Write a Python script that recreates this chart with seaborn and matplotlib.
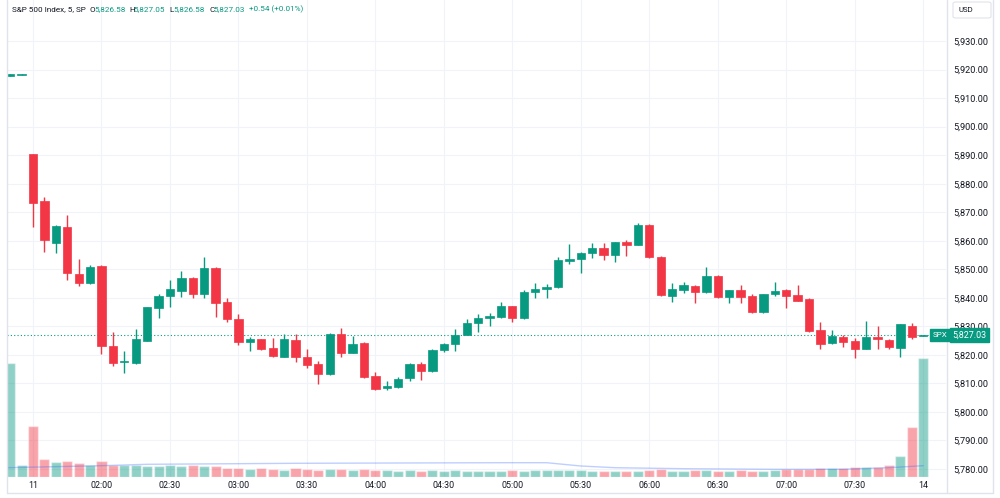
import matplotlib

matplotlib.use('Agg')
import matplotlib.pyplot as plt
import matplotlib.transforms as mtransforms
from matplotlib.lines import Line2D
from matplotlib.patches import FancyBboxPatch
import seaborn as sns
import pandas as pd
import numpy as np

# 5-minute bars, S&P 500 (SPX)
opens = [5917.8, 5918.2, 5890.3, 5873.9, 5859.3, 5864.9, 5848.3, 5845.3, 5851.2, 5823.1,
         5817.5, 5817.0, 5824.9, 5836.5, 5840.6, 5842.4, 5846.9, 5841.2, 5850.6, 5838.4,
         5832.6, 5824.4, 5825.5, 5822.4, 5819.4, 5825.2, 5819.4, 5816.7, 5813.2, 5827.2,
         5820.8, 5824.2, 5812.6, 5808.3, 5808.8, 5812.0, 5816.8, 5814.3, 5821.7, 5823.9,
         5827.0, 5831.3, 5833.0, 5833.2, 5837.1, 5832.8, 5842.1, 5843.0, 5843.7, 5853.0,
         5853.6, 5855.8, 5857.4, 5855.0, 5859.7, 5858.6, 5865.6, 5854.4, 5840.8, 5842.6,
         5844.2, 5841.9, 5847.8, 5840.4, 5842.7, 5840.6, 5834.9, 5841.2, 5842.7, 5840.9,
         5839.5, 5828.8, 5824.2, 5826.4, 5824.9, 5822.0, 5826.4, 5825.2, 5822.5, 5830.2,
         5826.58]
highs = [5918.4, 5918.4, 5890.5, 5875.4, 5865.4, 5869.0, 5853.6, 5851.5, 5851.5, 5827.9,
         5821.4, 5829.1, 5836.9, 5841.2, 5846.2, 5849.4, 5847.4, 5854.2, 5850.8, 5840.0,
         5834.3, 5826.4, 5825.7, 5826.0, 5827.3, 5827.2, 5822.0, 5818.0, 5827.6, 5829.5,
         5826.7, 5824.4, 5814.1, 5811.0, 5812.4, 5817.3, 5817.5, 5822.2, 5824.3, 5829.2,
         5832.5, 5834.2, 5834.6, 5838.4, 5837.2, 5842.7, 5845.1, 5844.8, 5854.4, 5858.8,
         5856.2, 5859.1, 5859.1, 5859.6, 5860.3, 5866.3, 5865.8, 5854.5, 5845.1, 5845.5,
         5844.4, 5850.7, 5848.0, 5842.9, 5844.4, 5841.3, 5841.5, 5845.5, 5843.0, 5844.5,
         5839.8, 5831.6, 5828.7, 5827.0, 5825.8, 5831.9, 5830.1, 5825.6, 5830.9, 5831.1,
         5827.05]
lows = [5917.8, 5918.1, 5864.7, 5856.2, 5855.6, 5846.2, 5844.2, 5844.8, 5820.2, 5816.1,
        5813.5, 5816.8, 5824.7, 5833.0, 5836.9, 5840.4, 5840.0, 5840.0, 5833.4, 5831.6,
        5823.5, 5821.5, 5821.7, 5819.2, 5819.3, 5817.6, 5815.5, 5809.7, 5813.0, 5819.2,
        5820.6, 5812.0, 5807.7, 5807.6, 5808.4, 5810.8, 5811.2, 5814.0, 5821.0, 5821.5,
        5826.9, 5828.1, 5830.2, 5833.0, 5831.6, 5832.5, 5839.8, 5839.8, 5843.5, 5851.7,
        5848.6, 5853.9, 5853.3, 5852.7, 5854.8, 5858.4, 5854.0, 5840.8, 5838.6, 5841.8,
        5838.1, 5841.8, 5840.1, 5838.1, 5838.1, 5834.8, 5834.6, 5840.7, 5836.5, 5838.8,
        5828.1, 5822.0, 5823.7, 5822.7, 5818.8, 5821.9, 5822.0, 5822.0, 5819.4, 5825.5,
        5826.58]
closes = [5918.3, 5918.3, 5873.3, 5860.3, 5865.2, 5848.6, 5845.3, 5850.7, 5823.2, 5817.0,
          5817.7, 5825.5, 5836.7, 5840.6, 5843.0, 5847.1, 5841.3, 5850.3, 5838.3, 5832.6,
          5824.6, 5825.5, 5822.1, 5819.6, 5825.5, 5819.4, 5816.6, 5813.4, 5827.2, 5820.8,
          5823.9, 5812.4, 5808.1, 5809.1, 5811.7, 5816.8, 5814.3, 5821.7, 5823.9, 5827.0,
          5831.1, 5832.8, 5833.7, 5837.1, 5833.0, 5842.1, 5843.2, 5843.9, 5853.3, 5853.6,
          5855.8, 5857.4, 5855.0, 5859.5, 5858.6, 5865.5, 5854.2, 5841.0, 5843.0, 5844.5,
          5842.1, 5847.8, 5840.3, 5842.7, 5840.4, 5834.9, 5841.4, 5842.5, 5840.7, 5839.0,
          5828.5, 5823.7, 5826.5, 5824.6, 5822.0, 5826.4, 5825.5, 5822.7, 5830.7, 5826.2,
          5827.03]
volumes = [114, 12, 51, 18, 15, 16, 14, 12, 16, 12, 12, 12, 11, 11, 12, 11, 12, 11, 11, 9,
           9, 8, 9, 8, 7, 9, 8, 7, 8, 8, 7, 8, 7, 7, 6, 7, 6, 7, 6, 7,
           6, 6, 6, 6, 7, 6, 7, 7, 7, 7, 7, 6, 6, 6, 6, 6, 7, 8, 6, 6,
           7, 7, 6, 6, 7, 6, 6, 7, 8, 8, 8, 9, 9, 9, 10, 10, 10, 12, 21, 50,
           119]
vol_ma_idx = [-0.3, 8, 12, 25, 43, 47, 50, 53, 59, 67, 73, 77, 80]
vol_ma_vals = [9.3, 11.3, 12.7, 13.7, 14.3, 14.3, 11.0, 9.3, 8.3, 7.7, 7.7, 9.3, 11.3]

time_tick_idx = [2, 8, 14, 20, 26, 32, 38, 44, 50, 56, 62, 68, 74, 80]
time_tick_labels = ['11', '02:00', '02:30', '03:00', '03:30', '04:00', '04:30',
                    '05:00', '05:30', '06:00', '06:30', '07:00', '07:30', '14']
price_ticks = list(range(5780, 5940, 10))
last_price = 5827.03

UP = '#089981'
DOWN = '#F23645'
TEXT = '#131722'
FRAME = '#e0e3eb'
GRID = '#f0f3fa'

sns.set_style('white')
plt.rcParams['font.family'] = ['Roboto', 'DejaVu Sans']

W, H = 1000, 498
fig = plt.figure(figsize=(W / 100, H / 100), dpi=100)
ax = fig.add_axes([7 / W, (H - 477) / H, (946 - 7) / W, 477 / H])

df = pd.DataFrame({'idx': np.arange(len(opens)), 'open': opens, 'high': highs,
                   'low': lows, 'close': closes, 'volume': volumes})
df['dir'] = np.where(df['close'] >= df['open'], 'up', 'down')
colors = df['dir'].map({'up': UP, 'down': DOWN})

# candles
ax.vlines(df['idx'], df['low'], df['high'], colors=colors, lw=1, zorder=3)
body = np.maximum((df['close'] - df['open']).abs(), 0.35)
ax.bar(df['idx'], body, bottom=np.minimum(df['open'], df['close']), width=0.73,
       color=colors, edgecolor=colors, lw=0.5, zorder=4)
ax.axhline(last_price, color=UP, lw=0.8, ls=(0, (1, 2)), zorder=2)

# volume pane overlay
ax2 = ax.twinx()
sns.barplot(data=df, x='idx', y='volume', hue='dir', palette={'up': UP, 'down': DOWN},
            native_scale=True, width=0.88, errorbar=None, legend=False, saturation=1,
            alpha=0.45, ax=ax2)
sns.lineplot(x=vol_ma_idx, y=vol_ma_vals, color='#2962ff', alpha=0.3, lw=1, ax=ax2)
ax2.set_ylim(0, 477)
ax2.set_yticks([])
ax2.set_ylabel('')
ax2.set_xlabel('')
for s in ax2.spines.values():
    s.set_visible(False)

ax.set_xlim(-0.28, 82.0)
ax.set_ylim(5777.2, 5944.4)
ax.set_xticks(time_tick_idx)
ax.set_xticklabels(time_tick_labels)
ax.set_yticks(price_ticks)
ax.set_yticklabels([f'{p:,.2f}' for p in price_ticks])
ax.yaxis.tick_right()
ax.yaxis.set_label_position('right')
ax.set_xlabel('')
ax.tick_params(axis='x', length=0, pad=3, labelsize=6.4, labelcolor=TEXT)
ax.tick_params(axis='y', length=0, pad=5, labelsize=6.6, labelcolor=TEXT)
ax.grid(True, color=GRID, lw=0.8)
ax.set_axisbelow(True)
for s in ax.spines.values():
    s.set_visible(False)

# frame
def fline(x0, y0, x1, y1):
    fig.add_artist(Line2D([x0 / W, x1 / W], [1 - y0 / H, 1 - y1 / H],
                          transform=fig.transFigure, color=FRAME, lw=1))

fline(6.5, 0, 6.5, 493)
fline(6.5, 493, 993, 493)
fline(993, 0, 993, 493)
fline(946.5, 0, 946.5, 493)

# header
hy = 1 - 9.5 / H
header = [(12, 'S&P 500 Index, 5, SP', TEXT), (89, 'O', TEXT), (94, '5,826.58', UP),
          (129, 'H', TEXT), (133.5, '5,827.05', UP), (169.5, 'L', TEXT), (173.5, '5,826.58', UP),
          (209, 'C', TEXT), (213.5, '5,827.03', UP), (249, '+0.54 (+0.01%)', UP)]
for x, s, c in header:
    fig.text(x / W, hy, s, color=c, fontsize=5.9, ha='left', va='center')

# USD box
fig.add_artist(FancyBboxPatch((953 / W, 1 - 18 / H), 38 / W, 16 / H,
                              boxstyle='round,pad=0,rounding_size=0.003',
                              transform=fig.transFigure, facecolor='white',
                              edgecolor=FRAME, lw=0.8))
fig.text(965.5 / W, 1 - 10 / H, 'USD', fontsize=5.6, color=TEXT, ha='center', va='center')

# last price labels
tr = mtransforms.blended_transform_factory(fig.transFigure, ax.transData)
fig.text(940.5 / W, last_price, 'SPX', transform=tr, fontsize=5.8, color='white',
         ha='center', va='center',
         bbox=dict(boxstyle='square,pad=0.35', fc=UP, ec=UP))
fig.text(969.5 / W, last_price, f'{last_price:,.2f}', transform=tr, fontsize=6.4,
         color='white', ha='center', va='center',
         bbox=dict(boxstyle='square,pad=0.3', fc=UP, ec=UP))

fig.savefig('out.png', dpi=100)
